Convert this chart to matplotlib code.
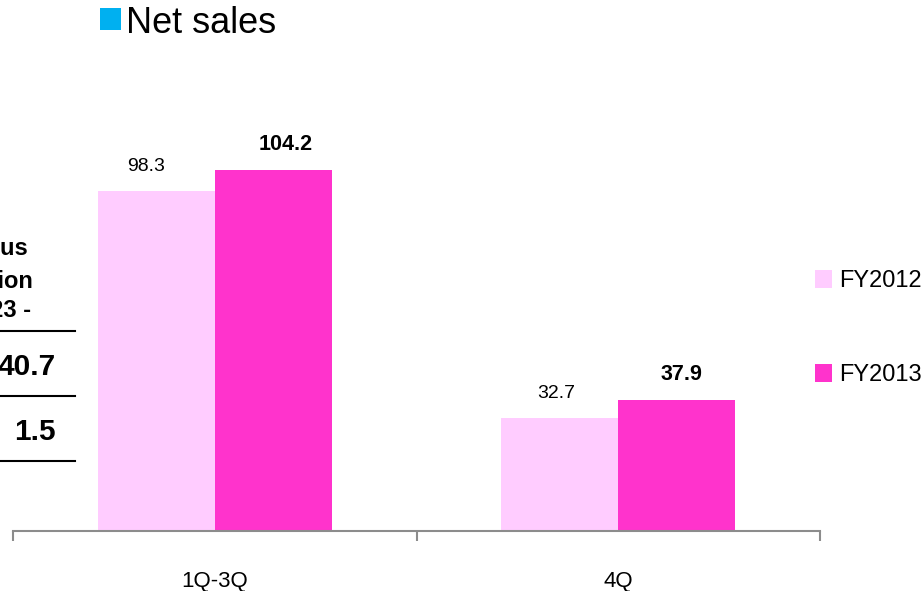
import matplotlib.pyplot as plt
from matplotlib.patches import Rectangle
from matplotlib.lines import Line2D
import numpy as np

plt.rcParams['font.family'] = ['Liberation Sans', 'DejaVu Sans']

categories = ['1Q-3Q', '4Q']
series_names = ['FY2012', 'FY2013']
fy2012 = [98.3, 32.7]
fy2013 = [104.2, 37.9]
colors = ['#FFCCFF', '#FF33CC']

# side table (previous projection)
table_header = ['Previous', 'projection', 'Nov. 23 -']
table_values = ['40.7', '1.5']

W, H = 924, 591
fig = plt.figure(figsize=(W / 100, H / 100), dpi=100)


def fx(px):
    return px / W


def fy(py):
    return 1 - py / H


ax = fig.add_axes([fx(13), fy(531), fx(820) - fx(13), fy(12) - fy(531)])

x = np.arange(len(categories))
width = 0.29
b1 = ax.bar(x - width / 2, fy2012, width, color=colors[0], zorder=2)
b2 = ax.bar(x + width / 2, fy2013, width, color=colors[1], zorder=2)

# value labels (FY2013 in bold)
dx1 = [-10, -4]
dx2 = [12, 5]
for i, bar in enumerate(b1):
    ax.annotate(f'{fy2012[i]:.1f}', (bar.get_x() + bar.get_width() / 2, bar.get_height()),
                xytext=(dx1[i], 20), textcoords='offset pixels',
                ha='center', va='baseline', fontsize=14)
for i, bar in enumerate(b2):
    ax.annotate(f'{fy2013[i]:.1f}', (bar.get_x() + bar.get_width() / 2, bar.get_height()),
                xytext=(dx2[i], 20), textcoords='offset pixels',
                ha='center', va='baseline', fontsize=15.5, fontweight='bold')

ax.set_xlim(-0.5, 1.5)
ax.set_ylim(0, 150)
for s in ['left', 'right', 'top']:
    ax.spines[s].set_visible(False)
ax.spines['bottom'].set_color('#8C8C8C')
ax.spines['bottom'].set_linewidth(1.5)
ax.set_yticks([])
ax.set_xticks([-0.5, 0.5, 1.5])
ax.set_xticklabels([])
ax.tick_params(axis='x', which='major', direction='out', length=7.5, width=1.5, color='#8C8C8C')

# category names under the axis
for i, cat in enumerate(categories):
    ax.annotate(cat, (x[i], 0), xycoords=ax.get_xaxis_transform(),
                xytext=(0, -56), textcoords='offset pixels',
                ha='center', va='baseline', fontsize=16)

# title with blue square marker
fig.add_artist(Rectangle((fx(100), fy(30)), fx(21), fy(8) - fy(30),
                         transform=fig.transFigure, color='#00B0F0', lw=0))
fig.text(fx(126), fy(33), 'Net sales', fontsize=26, va='baseline')

# legend
leg_y = [288, 382]
for name, c, yb in zip(series_names, colors, leg_y):
    fig.add_artist(Rectangle((fx(815), fy(yb)), fx(17), fy(yb - 18) - fy(yb),
                             transform=fig.transFigure, color=c, lw=0))
    fig.text(fx(839), fy(yb - 1), name, fontsize=17, va='baseline')

# previous projection table, partly off the left edge
for txt, xe, yb in zip(table_header, [28, 33, 31], [255, 288, 317]):
    fig.text(fx(xe), fy(yb), txt, fontsize=17, fontweight='bold', ha='right', va='baseline')
for txt, yb in zip(table_values, [375, 440]):
    fig.text(fx(56), fy(yb), txt, fontsize=21.5, fontweight='bold', ha='right', va='baseline')
for yl in [331, 396, 461]:
    fig.add_artist(Line2D([0, fx(75)], [fy(yl), fy(yl)], transform=fig.transFigure,
                          color='black', lw=1.5))

fig.savefig('out.png', dpi=100)
